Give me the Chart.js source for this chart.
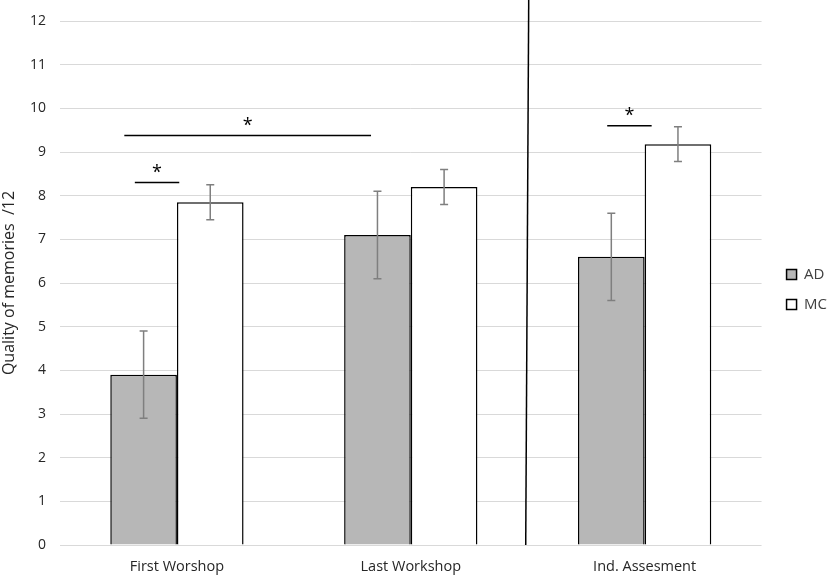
<!DOCTYPE html>
<html>
    <head>
        <meta charset="UTF-8">
        <title>Quality of memories</title>
        <script src="https://cdn.jsdelivr.net/npm/chart.js"></script>
        <style>
            html, body { margin: 0; padding: 0; background: #fff; }
            #box { width: 829px; height: 579px; }
        </style>
    </head>
    <body>
        <div id="box"><canvas id="graphique"></canvas></div>

        <script>
            // donnees
            const categories = ['First Worshop', 'Last Workshop', 'Ind. Assesment'];
            const seriesNames = ['AD', 'MC'];
            const valeursAD = [3.9, 7.1, 6.6];
            const valeursMC = [7.85, 8.2, 9.18];
            const erreursAD = [1.0, 1.0, 1.0];
            const erreursMC = [0.4, 0.4, 0.4];
            const yTicks = [0, 1, 2, 3, 4, 5, 6, 7, 8, 9, 10, 11, 12];

            // barres de significativite : [x debut, x fin, y] en unites des axes
            const signifDebut = [-0.18, -0.225, 1.84];
            const signifFin = [0.01, 0.83, 2.03];
            const signifY = [8.3, 9.38, 9.6];
            const separateurX = 1.5;

            const police = "'Open Sans', 'Noto Sans', sans-serif";

            const annotations = {
                id: 'annotations',
                afterLayout(chart) {
                    // decaler un peu la legende vers la droite
                    chart.legend.left += 10;
                    chart.legend.right += 10;
                },
                afterDatasetsDraw(chart) {
                    const ctx = chart.ctx;
                    const x = chart.scales.x;
                    const y = chart.scales.y;
                    ctx.save();

                    // barres d'erreur
                    ctx.strokeStyle = '#7f7f7f';
                    ctx.lineWidth = 1.5;
                    [[valeursAD, erreursAD], [valeursMC, erreursMC]].forEach(function (s, d) {
                        const meta = chart.getDatasetMeta(d);
                        meta.data.forEach(function (bar, i) {
                            const yh = y.getPixelForValue(s[0][i] + s[1][i]);
                            const yb = y.getPixelForValue(s[0][i] - s[1][i]);
                            ctx.beginPath();
                            ctx.moveTo(bar.x, yh); ctx.lineTo(bar.x, yb);
                            ctx.moveTo(bar.x - 4, yh); ctx.lineTo(bar.x + 4, yh);
                            ctx.moveTo(bar.x - 4, yb); ctx.lineTo(bar.x + 4, yb);
                            ctx.stroke();
                        });
                    });

                    // separateur vertical
                    ctx.strokeStyle = '#000';
                    ctx.lineWidth = 1.5;
                    const sx = x.getPixelForValue(separateurX);
                    ctx.beginPath();
                    ctx.moveTo(sx + 1, 0);
                    ctx.lineTo(sx - 2, y.getPixelForValue(0));
                    ctx.stroke();

                    // significativite
                    ctx.fillStyle = '#000';
                    ctx.font = '18px ' + police;
                    ctx.textAlign = 'center';
                    ctx.textBaseline = 'middle';
                    for (let k = 0; k < signifY.length; k++) {
                        const x1 = x.getPixelForValue(signifDebut[k]);
                        const x2 = x.getPixelForValue(signifFin[k]);
                        const yy = y.getPixelForValue(signifY[k]);
                        ctx.beginPath();
                        ctx.moveTo(x1, yy); ctx.lineTo(x2, yy);
                        ctx.stroke();
                        ctx.fillText('*', (x1 + x2) / 2, yy - 10);
                    }
                    ctx.restore();
                }
            };

            const ctx = document.getElementById('graphique').getContext('2d');
            const chart = new Chart(ctx, {
                type: 'bar',
                data: {
                    labels: categories,
                    datasets: [
                        {
                            label: seriesNames[0],
                            data: valeursAD,
                            backgroundColor: '#b7b7b7',
                            borderColor: '#000',
                            borderWidth: 1.5
                        },
                        {
                            label: seriesNames[1],
                            data: valeursMC,
                            backgroundColor: '#fff',
                            borderColor: '#000',
                            borderWidth: 1.5
                        }
                    ]
                },
                options: {
                    responsive: true,
                    maintainAspectRatio: false,
                    animation: false,
                    layout: { padding: { top: 0, right: 2, bottom: 0, left: 0 } },
                    categoryPercentage: 0.57,
                    barPercentage: 1.0,
                    plugins: {
                        legend: {
                            position: 'right',
                            labels: {
                                boxWidth: 10,
                                boxHeight: 10,
                                padding: 15,
                                color: '#404040',
                                font: { family: police, size: 15 }
                            }
                        },
                        tooltip: { enabled: false }
                    },
                    scales: {
                        x: {
                            afterFit: function (axis) { axis.height = 34; },
                            grid: { display: false, drawTicks: false },
                            border: { display: false },
                            ticks: { color: '#262626', padding: 13, font: { family: police, size: 14.5 } }
                        },
                        y: {
                            min: 0,
                            max: 12,
                            afterBuildTicks: function (axis) {
                                axis.ticks = yTicks.map(function (v) { return { value: v }; });
                            },
                            afterFit: function (axis) { axis.width = 60; },
                            grid: { color: '#d9d9d9', lineWidth: 1, drawTicks: false },
                            border: { display: false },
                            ticks: { color: '#262626', padding: 14, font: { family: police, size: 14, lineHeight: 1 } },
                            title: {
                                display: true,
                                text: 'Quality of memories  /12',
                                color: '#262626',
                                padding: 0,
                                font: { family: police, size: 16 }
                            }
                        }
                    }
                },
                plugins: [annotations]
            });
        </script>
    </body>
</html>
